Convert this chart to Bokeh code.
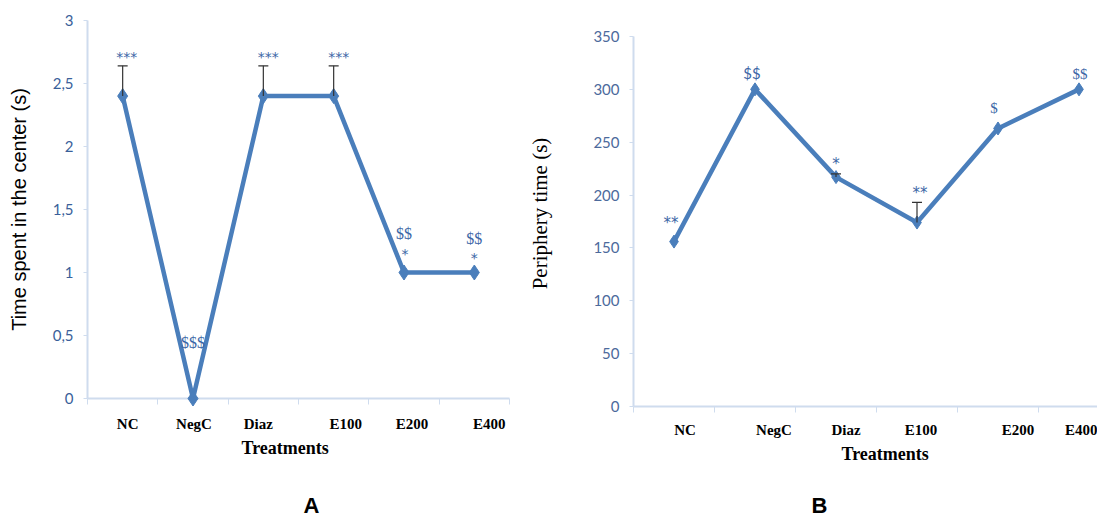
from bokeh.plotting import figure
from bokeh.models import Range1d, FixedTicker, Whisker, TeeHead, ColumnDataSource, Title
from bokeh.layouts import row
from bokeh.embed import file_html
from bokeh.resources import INLINE
from bokeh.core.properties import value

# ---------------- data ----------------
categories = ["NC", "NegC", "Diaz", "E100", "E200", "E400"]

center_time = [2.4, 0.0, 2.4, 2.4, 1.0, 1.0]
center_err = [0.24, 0.0, 0.24, 0.24, 0.0, 0.0]
center_stars = ["***", "", "***", "***", "*", "*"]
center_dollars = ["", "$$$", "", "", "$$", "$$"]
center_ticks = [0, 0.5, 1, 1.5, 2, 2.5, 3]
center_tick_labels = ["0", "0,5", "1", "1,5", "2", "2,5", "3"]

periphery_time = [156, 300, 217, 174, 263, 300]
periphery_err = [0, 0, 3, 19, 0, 0]
periphery_marks = ["**", "$$", "*", "**", "$", "$$"]
periphery_ticks = [0, 50, 100, 150, 200, 250, 300, 350]

x_title = "Treatments"

# ---------------- style ----------------
LINE = "#4A7EBB"
AXIS = "#CFDCEE"
TICKLAB = "#3A5F9A"
ANNO = "#3C66A6"
ERR = "#333333"

xs = [i + 0.5 for i in range(len(categories))]


def base_fig(frame_w, frame_h, border_left, border_right, border_top, y_range,
             x_end, label_dx_px, px_per_cat, label_standoff, title_dx, panel, panel_dx, gap):
    p = figure(frame_width=frame_w, frame_height=frame_h, output_backend="svg",
               toolbar_location=None,
               title=None, x_range=Range1d(0, x_end), y_range=y_range,
               min_border_left=border_left, min_border_right=border_right,
               min_border_top=border_top, min_border_bottom=0)
    p.outline_line_color = None
    p.grid.visible = False
    p.background_fill_color = "white"
    p.border_fill_color = "white"
    xa = p.xaxis[0]
    label_pos = [x + d / px_per_cat for x, d in zip(xs, label_dx_px)]
    xa.ticker = FixedTicker(ticks=label_pos, minor_ticks=list(range(len(categories) + 1)))
    xa.major_label_overrides = {x: c for x, c in zip(label_pos, categories)}
    xa.major_tick_line_color = None
    xa.major_tick_out = 0
    xa.major_tick_in = 0
    xa.minor_tick_line_color = AXIS
    xa.minor_tick_out = 6
    xa.minor_tick_in = 0
    xa.axis_line_color = AXIS
    xa.axis_line_width = 2
    xa.major_label_text_font = "Liberation Serif"
    xa.major_label_text_font_style = "bold"
    xa.major_label_text_font_size = "15px"
    xa.major_label_text_color = "black"
    xa.major_label_standoff = label_standoff
    ya = p.yaxis[0]
    ya.axis_line_color = AXIS
    ya.axis_line_width = 2
    ya.major_tick_line_color = AXIS
    ya.major_tick_out = 4
    ya.major_tick_in = 0
    ya.minor_tick_line_color = None
    ya.major_label_text_font = "Lato"
    ya.major_label_text_font_size = "15px"
    ya.major_label_text_color = TICKLAB
    ya.major_label_standoff = 10
    # x-axis title below the axis
    p.add_layout(Title(text=x_title, align="left", offset=title_dx, standoff=2,
                       text_font="Liberation Serif", text_font_style="bold",
                       text_font_size="18px", text_color="black"), "below")
    # spacer, then the panel letter
    p.add_layout(Title(text=" ", standoff=gap, text_font_size="1px"), "below")
    p.add_layout(Title(text=panel, align="left", offset=panel_dx, standoff=0,
                       vertical_align="top",
                       text_font="Liberation Sans", text_font_style="bold",
                       text_font_size="22px", text_color="black"), "below")
    return p


# ---------------- panel A ----------------
frame_a_w = 422
pa = base_fig(frame_a_w, 378, 87, 16, 20, Range1d(0, 3), 6,
              [5, 1, -5, 12, 8, 15], frame_a_w / 6.0, 11, 154, "A", 216, 31)
ya = pa.yaxis[0]
ya.ticker = FixedTicker(ticks=center_ticks)
ya.major_label_overrides = {t: l for t, l in zip(center_ticks, center_tick_labels)}
ya.axis_label = "Time spent in the center (s)"
ya.axis_label_text_font = "Liberation Sans"
ya.axis_label_text_font_style = "normal"
ya.axis_label_text_font_size = "20px"
ya.axis_label_text_color = "black"
ya.axis_label_standoff = 20

src_a = ColumnDataSource(dict(
    x=xs, y=center_time,
    top=[v + e for v, e in zip(center_time, center_err)],
    stars=center_stars, dollars=center_dollars,
))
err_a = ColumnDataSource(dict(
    x=[x for x, e in zip(xs, center_err) if e > 0],
    lower=[v for v, e in zip(center_time, center_err) if e > 0],
    upper=[v + e for v, e in zip(center_time, center_err) if e > 0],
))
pa.add_layout(Whisker(source=err_a, base="x", lower="lower", upper="upper",
                      line_color=ERR, line_width=1.2, lower_head=None,
                      upper_head=TeeHead(size=10, line_color=ERR, line_width=1.2),
                      level="overlay"))
pa.line("x", "y", source=src_a, line_color=LINE, line_width=4.5, level="overlay")
pa.scatter("x", "y", source=src_a, marker="diamond", size=15, color=LINE, level="overlay")

star_dy = [-9, 0, -9, -9, -19, -15]
dollar_dy = [0, -56, 0, 0, -39, -34]
star_dx = [4, 0, 5, 5, 1, 0]
src_a.data["star_dy"] = star_dy
src_a.data["dollar_dy"] = dollar_dy
src_a.data["star_dx"] = star_dx
pa.text("x", "top", text="stars", source=src_a, y_offset="star_dy", x_offset="star_dx",
        text_align="center", text_baseline="middle", text_font=value("DejaVu Sans"),
        text_font_size="14px", text_color=ANNO, level="overlay")
pa.text("x", "y", text="dollars", source=src_a, y_offset="dollar_dy",
        text_align="center", text_baseline="middle", text_font=value("Liberation Serif"),
        text_font_size="16px", text_color=ANNO, level="overlay")

# ---------------- panel B ----------------
frame_b = 464
px_per_unit_b = 370 / 350.0
pb = base_fig(frame_b, 386, 102, 0, 20, Range1d(0, 350 + 16 / px_per_unit_b),
              frame_b / 81.0, [11, 19, 10, 4, 20, 6], 81.0, 9, 208, "B", 178, 25)
yb = pb.yaxis[0]
yb.ticker = FixedTicker(ticks=periphery_ticks)
yb.bounds = (0, 350)
yb.axis_label = "Periphery time (s)"
yb.axis_label_text_font = "Liberation Serif"
yb.axis_label_text_font_style = "normal"
yb.axis_label_text_font_size = "21px"
yb.axis_label_text_color = "black"
yb.axis_label_standoff = 38
yb.major_label_text_color = "#4C6A9C"

src_b = ColumnDataSource(dict(
    x=xs, y=periphery_time,
    top=[v + e for v, e in zip(periphery_time, periphery_err)],
    marks=periphery_marks,
))
err_b = ColumnDataSource(dict(
    x=[x for x, e in zip(xs, periphery_err) if e > 0],
    lower=[v for v, e in zip(periphery_time, periphery_err) if e > 0],
    upper=[v + e for v, e in zip(periphery_time, periphery_err) if e > 0],
))
pb.add_layout(Whisker(source=err_b, base="x", lower="lower", upper="upper",
                      line_color=ERR, line_width=1.2, lower_head=None,
                      upper_head=TeeHead(size=10, line_color=ERR, line_width=1.2),
                      level="overlay"))
pb.line("x", "y", source=src_b, line_color=LINE, line_width=4.5, level="overlay")
pb.scatter("x", "y", source=src_b, marker="diamond", size=13, color=LINE, level="overlay")

mark_dy = [-19, -16, -10, -9, -20, -15]
mark_dx = [-3, -3, 0, 3, -4, 1]
mark_font = ["DejaVu Sans", "Lato", "DejaVu Sans", "DejaVu Sans", "Liberation Serif", "Liberation Serif"]
src_b.data["mark_dy"] = mark_dy
src_b.data["mark_dx"] = mark_dx
src_b.data["mark_font"] = mark_font
pb.text("x", "top", text="marks", source=src_b, y_offset="mark_dy", x_offset="mark_dx",
        text_align="center", text_baseline="middle", text_font="mark_font",
        text_font_size="15px", text_color=ANNO, level="overlay")

layout = row(pa, pb)
open("out.html", "w").write(file_html(layout, INLINE))
